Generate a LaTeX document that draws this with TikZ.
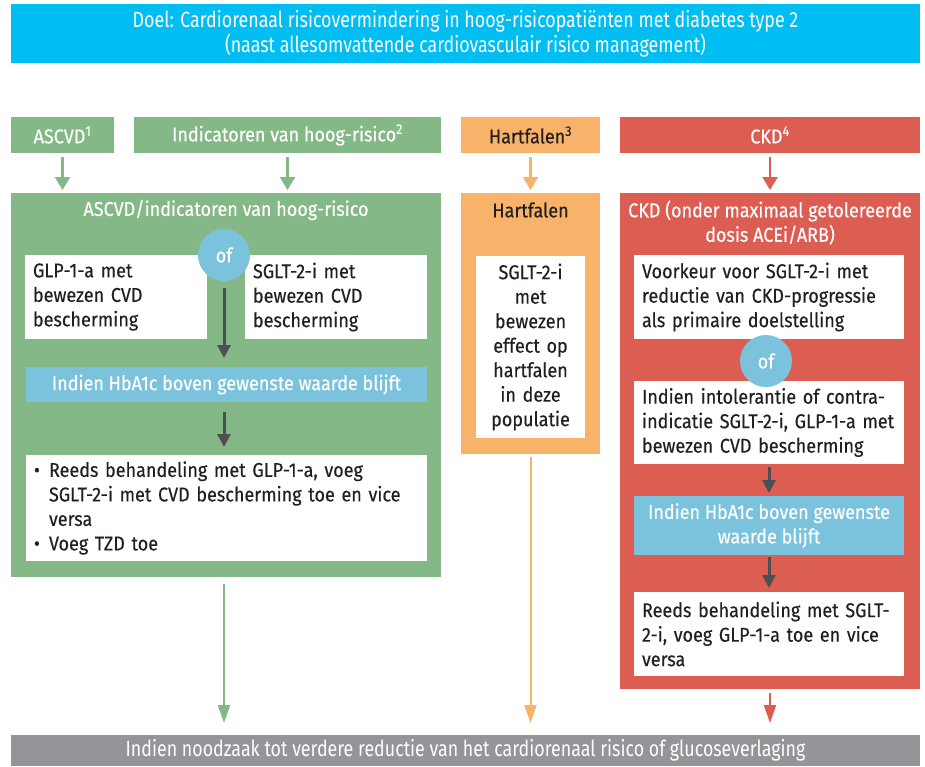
\documentclass[tikz,border=0pt]{standalone}
\usepackage{fontspec}
\setmainfont{Fira Sans}[FakeStretch=0.9, FakeBold=0.3]
\newfontfamily\bannerfont{Fira Sans}[FakeStretch=0.81]
\usepackage{xcolor}
\usetikzlibrary{arrows.meta}
\definecolor{doelblue}{RGB}{0,189,242}
\definecolor{ascvdgreen}{RGB}{132,184,135}
\definecolor{hforange}{RGB}{248,178,106}
\definecolor{ckdred}{RGB}{220,93,82}
\definecolor{hbablue}{RGB}{123,194,220}
\definecolor{bargray}{RGB}{147,149,152}
\definecolor{arrowdark}{RGB}{77,79,83}
\definecolor{inkdark}{RGB}{35,31,32}
\newcommand{\bul}{\makebox[15pt][l]{\textbullet}}

\begin{document}
\begin{tikzpicture}[x=1pt, y=-1pt,
  every node/.style={font=\fontsize{20}{24.5}\selectfont, inner sep=0pt, outer sep=0pt},
  colbox/.style={rectangle, fill=#1, text=white, align=center},
  whitebox/.style={rectangle, fill=white, text=inkdark, align=left, inner xsep=8pt},
  ofcircle/.style={circle, fill=hbablue, text=white, minimum size=52pt},
  toparrow/.style={#1, -{Triangle[width=15pt,length=13pt]}, line width=2.2pt,
    shorten <=4pt, shorten >=3pt},
  steparrow/.style={arrowdark, -{Triangle[width=13pt,length=13pt]}, line width=3pt},
  endarrow/.style={#1, -{Triangle[width=12pt,length=18pt]}, line width=2pt, shorten >=12pt},
]
  \useasboundingbox (0,0) rectangle (925,766);

  % Doel (top)
  \node[colbox=doelblue, minimum width=909pt, minimum height=59pt, font=\bannerfont\fontsize{22}{25}\selectfont]
    (doel) at (465.5,33.5) {Doel: Cardiorenaal risicovermindering in hoog-risicopati\"enten met diabetes type 2\\
    (naast allesomvattende cardiovasculair risico management)};

  % Headers
  \node[colbox=ascvdgreen, minimum width=103pt, minimum height=36pt] (hdrAscvd) at (62.5,135) {ASCVD\textsuperscript{1}};
  \node[colbox=ascvdgreen, minimum width=307pt, minimum height=36pt] (hdrInd) at (287.5,135) {Indicatoren van hoog-risico\textsuperscript{2}};
  \node[colbox=hforange, text=inkdark, minimum width=139pt, minimum height=36pt] (hdrHf) at (530.5,135) {Hartfalen\textsuperscript{3}};
  \node[colbox=ckdred, minimum width=300pt, minimum height=36pt] (hdrCkd) at (770,135) {CKD\textsuperscript{4}};

  % Panels
  \node[colbox=ascvdgreen, minimum width=430pt, minimum height=384pt] (panelG) at (226,385) {};
  \node[colbox=hforange, minimum width=139pt, minimum height=261pt] (panelH) at (530.5,323.5) {};
  \node[colbox=ckdred, minimum width=300pt, minimum height=496pt] (panelC) at (770,441) {};

  \draw[toparrow=ascvdgreen] (hdrAscvd.south) -- (hdrAscvd.south |- panelG.north);
  \draw[toparrow=ascvdgreen] (hdrInd.south) -- (hdrInd.south |- panelG.north);
  \draw[toparrow=hforange] (hdrHf.south) -- (hdrHf.south |- panelH.north);
  \draw[toparrow=ckdred] (hdrCkd.south) -- (hdrCkd.south |- panelC.north);

  % ASCVD / hoog-risico (left)
  \node[text=white] (tG) at (226,210) {ASCVD/indicatoren van hoog-risico};
  \node[whitebox, text width=166pt, minimum height=84pt] (glp) at (116,297) {GLP-1-a met\\bewezen CVD\\bescherming};
  \node[whitebox, text width=166pt, minimum height=84pt] (sglt) at (336,297) {SGLT-2-i met\\bewezen CVD\\bescherming};
  \node[ofcircle] (orG) at (224,255) {of};
  \node[colbox=hbablue, minimum width=401pt, minimum height=35pt] (hbaG) at (226.5,384.5) {Indien HbA1c boven gewenste waarde blijft};
  \node[whitebox, text width=385pt, minimum height=106pt] (bulG) at (226.5,508)
    {\bul Reeds behandeling met GLP-1-a, voeg\\
     \hspace*{15pt}SGLT-2-i met CVD bescherming toe en vice\\
     \hspace*{15pt}versa\\
     \bul Voeg TZD toe};
  \draw[steparrow, shorten <=7pt, shorten >=9pt] (orG.south) -- (orG.south |- hbaG.north);
  \draw[steparrow, shorten <=10pt, shorten >=8pt] (hbaG.south -| orG) -- (bulG.north -| orG);

  % Hartfalen (middle)
  \node[text=inkdark] (tH) at (530.5,210) {Hartfalen};
  \node[whitebox, align=center, text width=93pt, minimum height=182pt] (hfBox) at (530.5,347)
    {SGLT-2-i\\met\\bewezen\\effect op\\hartfalen\\in deze\\populatie};

  % CKD (right)
  \node[text=white, align=center] (tC) at (770,222.5) {CKD (onder maximaal getolereerde\\dosis ACEi/ARB)};
  \node[whitebox, text width=254pt, minimum height=84pt] (voork) at (769,297)
    {Voorkeur voor SGLT-2-i met\\reductie van CKD-progressie\\als primaire doelstelling};
  \node[whitebox, text width=254pt, minimum height=83pt] (intol) at (769,422.5)
    {Indien intolerantie of contra-\\\mbox{indicatie SGLT-2-i, GLP-1-a met}\\bewezen CVD bescherming};
  \node[ofcircle] (orC) at (766,361) {of};
  \node[colbox=hbablue, minimum width=270pt, minimum height=59pt] (hbaC) at (769,525.5)
    {Indien HbA1c boven gewenste\\waarde blijft};
  \node[whitebox, text width=254pt, minimum height=84pt] (reeds) at (769,634)
    {Reeds behandeling met SGLT-\\2-i, voeg GLP-1-a toe en vice\\versa};
  \draw[steparrow, shorten <=3pt, shorten >=3pt] (intol.south) -- (hbaC.north);
  \draw[steparrow, shorten <=2pt, shorten >=4pt] (hbaC.south) -- (reeds.north);

  % Bottom bar
  \node[colbox=bargray, minimum width=909pt, minimum height=31pt, font=\bannerfont\fontsize{22}{25}\selectfont]
    (bar) at (465.5,750.5) {Indien noodzaak tot verdere reductie van het cardiorenaal risico of glucoseverlaging};
  \draw[endarrow=ascvdgreen, shorten <=7pt] (orG |- panelG.south) -- (orG |- bar.north);
  \draw[endarrow=hforange, shorten <=3pt] (panelH.south) -- (panelH.south |- bar.north);
  \draw[endarrow=ckdred, shorten <=4pt] (panelC.south) -- (panelC.south |- bar.north);
\end{tikzpicture}
\end{document}
